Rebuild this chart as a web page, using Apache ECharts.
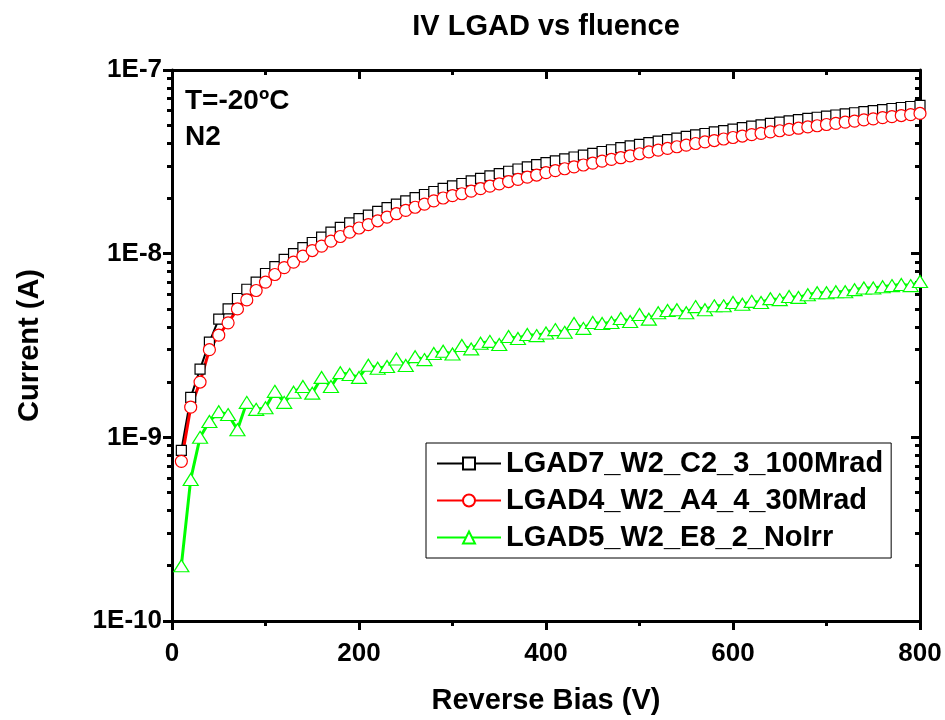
<!DOCTYPE html>
<html>
<head>
<meta charset="utf-8">
<script src="https://cdn.jsdelivr.net/npm/echarts@6/dist/echarts.min.js"></script>
<style>
html,body{margin:0;padding:0;background:#fff;}
#chart{width:945px;height:720px;}
</style>
</head>
<body>
<div id="chart"></div>
<script>
const voltage = [10,20,30,40,50,60,70,80,90,100,110,120,130,140,150,160,170,180,190,200,
210,220,230,240,250,260,270,280,290,300,310,320,330,340,350,360,370,380,390,400,
410,420,430,440,450,460,470,480,490,500,510,520,530,540,550,560,570,580,590,600,
610,620,630,640,650,660,670,680,690,700,710,720,730,740,750,760,770,780,790,800];

const lgad7_100Mrad = [8.5e-10,1.65e-9,2.35e-9,3.3e-9,4.4e-9,5.0e-9,5.7e-9,6.4e-9,7.0e-9,7.8e-9,
8.5e-9,9.3e-9,1.0e-8,1.08e-8,1.15e-8,1.23e-8,1.31e-8,1.39e-8,1.47e-8,1.55e-8,
1.62e-8,1.7e-8,1.78e-8,1.86e-8,1.94e-8,2.02e-8,2.1e-8,2.18e-8,2.27e-8,2.34e-8,
2.41e-8,2.49e-8,2.57e-8,2.65e-8,2.73e-8,2.81e-8,2.89e-8,2.97e-8,3.05e-8,3.13e-8,
3.2e-8,3.28e-8,3.36e-8,3.44e-8,3.52e-8,3.6e-8,3.68e-8,3.78e-8,3.86e-8,3.94e-8,
4.02e-8,4.1e-8,4.18e-8,4.26e-8,4.35e-8,4.43e-8,4.51e-8,4.6e-8,4.68e-8,4.77e-8,
4.86e-8,4.95e-8,5.03e-8,5.12e-8,5.2e-8,5.29e-8,5.37e-8,5.45e-8,5.53e-8,5.61e-8,
5.69e-8,5.77e-8,5.85e-8,5.93e-8,6.01e-8,6.09e-8,6.17e-8,6.25e-8,6.33e-8,6.42e-8];

const lgad4_30Mrad = [7.4e-10,1.46e-9,2.0e-9,3.0e-9,3.6e-9,4.2e-9,5.0e-9,5.6e-9,6.3e-9,7.0e-9,
7.7e-9,8.4e-9,9.0e-9,9.7e-9,1.04e-8,1.1e-8,1.17e-8,1.24e-8,1.31e-8,1.38e-8,
1.44e-8,1.51e-8,1.58e-8,1.65e-8,1.72e-8,1.79e-8,1.86e-8,1.94e-8,2.01e-8,2.07e-8,
2.12e-8,2.19e-8,2.26e-8,2.33e-8,2.4e-8,2.47e-8,2.54e-8,2.61e-8,2.68e-8,2.76e-8,
2.83e-8,2.9e-8,2.97e-8,3.04e-8,3.11e-8,3.19e-8,3.26e-8,3.33e-8,3.41e-8,3.5e-8,
3.58e-8,3.66e-8,3.74e-8,3.82e-8,3.9e-8,3.98e-8,4.06e-8,4.13e-8,4.21e-8,4.29e-8,
4.37e-8,4.45e-8,4.52e-8,4.6e-8,4.67e-8,4.75e-8,4.82e-8,4.9e-8,4.97e-8,5.05e-8,
5.12e-8,5.2e-8,5.27e-8,5.35e-8,5.42e-8,5.5e-8,5.57e-8,5.65e-8,5.72e-8,5.8e-8];

const lgad5_NoIrr = [2.0e-10,5.9e-10,1.0e-9,1.22e-9,1.38e-9,1.33e-9,1.10e-9,1.55e-9,1.42e-9,1.45e-9,
1.78e-9,1.55e-9,1.76e-9,1.89e-9,1.74e-9,2.12e-9,1.89e-9,2.25e-9,2.2e-9,2.12e-9,
2.47e-9,2.38e-9,2.43e-9,2.67e-9,2.46e-9,2.75e-9,2.65e-9,2.86e-9,2.94e-9,2.84e-9,
3.16e-9,3.03e-9,3.25e-9,3.33e-9,3.2e-9,3.54e-9,3.45e-9,3.63e-9,3.58e-9,3.7e-9,
3.86e-9,3.73e-9,4.17e-9,3.92e-9,4.22e-9,4.17e-9,4.22e-9,4.44e-9,4.27e-9,4.66e-9,
4.4e-9,4.77e-9,4.9e-9,4.95e-9,4.77e-9,5.15e-9,4.95e-9,5.2e-9,5.2e-9,5.42e-9,
5.3e-9,5.5e-9,5.42e-9,5.69e-9,5.62e-9,5.85e-9,5.78e-9,5.98e-9,6.13e-9,6.13e-9,
6.2e-9,6.2e-9,6.37e-9,6.5e-9,6.5e-9,6.6e-9,6.7e-9,6.8e-9,6.7e-9,7.05e-9];

const seriesNames = ['LGAD7_W2_C2_3_100Mrad','LGAD4_W2_A4_4_30Mrad','LGAD5_W2_E8_2_NoIrr'];
const yMajorTicks = [1e-10,1e-9,1e-8,1e-7];
const yMinorTicks = [2e-10,3e-10,4e-10,5e-10,6e-10,7e-10,8e-10,9e-10,
  2e-9,3e-9,4e-9,5e-9,6e-9,7e-9,8e-9,9e-9,
  2e-8,3e-8,4e-8,5e-8,6e-8,7e-8,8e-8,9e-8];
const titleText = 'IV LGAD vs fluence';
const xName = 'Reverse Bias (V)';
const yName = 'Current (A)';
const notes = ['T=-20ºC','N2'];

const FONT = 'Liberation Sans, Arial, sans-serif';
const pair = (ys) => voltage.map((v, i) => [v, ys[i]]);

function yLabel(v) {
  const e = Math.round(Math.log10(v));
  return '1E' + e;
}

const chart = echarts.init(document.getElementById('chart'), null, {renderer: 'canvas'});
const axisLineStyle = {color: '#000', width: 3};
const option = {
  backgroundColor: '#fff',
  animation: false,
  grid: {left: 172, right: 25, top: 70, bottom: 98},
  graphic: [
    {type: 'text', x: 546, y: 27, style: {text: titleText, fontFamily: FONT, fontWeight: 'bold', fontSize: 29, fill: '#000', align: 'center', verticalAlign: 'middle', textAlign: 'center', textVerticalAlign: 'middle'}},
    {type: 'text', x: 185, y: 101, style: {text: notes[0], fontFamily: FONT, fontWeight: 'bold', fontSize: 28, fill: '#000', align: 'left', verticalAlign: 'middle', textAlign: 'left', textVerticalAlign: 'middle'}},
    {type: 'text', x: 185, y: 137, style: {text: notes[1], fontFamily: FONT, fontWeight: 'bold', fontSize: 28, fill: '#000', align: 'left', verticalAlign: 'middle', textAlign: 'left', textVerticalAlign: 'middle'}}
  ],
  legend: {
    left: 426, top: 443,
    orient: 'vertical',
    padding: [6, 8, 6, 10],
    itemGap: 8,
    itemWidth: 64, itemHeight: 15,
    borderColor: '#000', borderWidth: 1,
    backgroundColor: '#fff',
    textStyle: {fontFamily: FONT, fontWeight: 'bold', fontSize: 29, color: '#000'},
    data: seriesNames
  },
  xAxis: [
    {
      type: 'value', position: 'bottom', min: 0, max: 800, interval: 200,
      name: xName, nameLocation: 'middle', nameGap: 65,
      nameTextStyle: {fontFamily: FONT, fontWeight: 'bold', fontSize: 29, color: '#000'},
      axisLine: {show: true, lineStyle: axisLineStyle},
      axisTick: {show: true, inside: false, length: 9, lineStyle: {color: '#000', width: 3}},
      minorTick: {show: true, splitNumber: 2, length: 5, lineStyle: {color: '#000', width: 3}},
      axisLabel: {fontFamily: FONT, fontWeight: 'bold', fontSize: 26, color: '#000', margin: 20},
      splitLine: {show: false}
    },
    {
      type: 'value', position: 'top', min: 0, max: 800, interval: 200,
      axisLine: {show: true, lineStyle: axisLineStyle},
      axisTick: {show: true, inside: true, length: 9, lineStyle: {color: '#000', width: 3}},
      minorTick: {show: true, splitNumber: 2, length: 5, lineStyle: {color: '#000', width: 3}},
      axisLabel: {show: false},
      splitLine: {show: false}
    }
  ],
  yAxis: [
    {
      type: 'log', position: 'left', min: 1e-10, max: 1e-7, logBase: 10,
      name: yName, nameLocation: 'middle', nameGap: 128, nameRotate: 90,
      nameTextStyle: {fontFamily: FONT, fontWeight: 'bold', fontSize: 29, color: '#000'},
      axisLine: {show: true, lineStyle: axisLineStyle},
      axisTick: {show: true, inside: false, length: 9, customValues: yMajorTicks, lineStyle: {color: '#000', width: 3}},
      axisLabel: {fontFamily: FONT, fontWeight: 'bold', fontSize: 26, color: '#000', margin: 10, customValues: yMajorTicks, formatter: yLabel},
      splitLine: {show: false}
    },
    {
      type: 'log', position: 'left', min: 1e-10, max: 1e-7, logBase: 10,
      axisLine: {show: false},
      axisTick: {show: true, inside: false, length: 5, customValues: yMinorTicks, lineStyle: {color: '#000', width: 3}},
      axisLabel: {show: false},
      splitLine: {show: false}
    },
    {
      type: 'log', position: 'right', min: 1e-10, max: 1e-7, logBase: 10,
      axisLine: {show: true, lineStyle: axisLineStyle},
      axisTick: {show: true, inside: true, length: 9, customValues: yMajorTicks, lineStyle: {color: '#000', width: 3}},
      axisLabel: {show: false},
      splitLine: {show: false}
    },
    {
      type: 'log', position: 'right', min: 1e-10, max: 1e-7, logBase: 10,
      axisLine: {show: false},
      axisTick: {show: true, inside: true, length: 5, customValues: yMinorTicks, lineStyle: {color: '#000', width: 3}},
      axisLabel: {show: false},
      splitLine: {show: false}
    }
  ],
  series: [
    {
      name: seriesNames[0], type: 'line', xAxisIndex: 0, yAxisIndex: 0,
      data: pair(lgad7_100Mrad),
      symbol: 'rect', symbolSize: 10, showAllSymbol: true,
      lineStyle: {color: '#000', width: 2},
      itemStyle: {color: '#fff', borderColor: '#000', borderWidth: 1.2},
      emphasis: {disabled: true}
    },
    {
      name: seriesNames[1], type: 'line', xAxisIndex: 0, yAxisIndex: 0,
      data: pair(lgad4_30Mrad),
      symbol: 'circle', symbolSize: 12, showAllSymbol: true,
      lineStyle: {color: '#ff0000', width: 3},
      itemStyle: {color: '#fff', borderColor: '#ff0000', borderWidth: 1.2},
      emphasis: {disabled: true}
    },
    {
      name: seriesNames[2], type: 'line', xAxisIndex: 0, yAxisIndex: 0,
      data: pair(lgad5_NoIrr),
      symbol: 'triangle', symbolSize: [15, 12], showAllSymbol: true,
      lineStyle: {color: '#00ff00', width: 3},
      itemStyle: {color: '#fff', borderColor: '#00ff00', borderWidth: 1.2},
      emphasis: {disabled: true}
    }
  ]
};
chart.setOption(option);
</script>
</body>
</html>
